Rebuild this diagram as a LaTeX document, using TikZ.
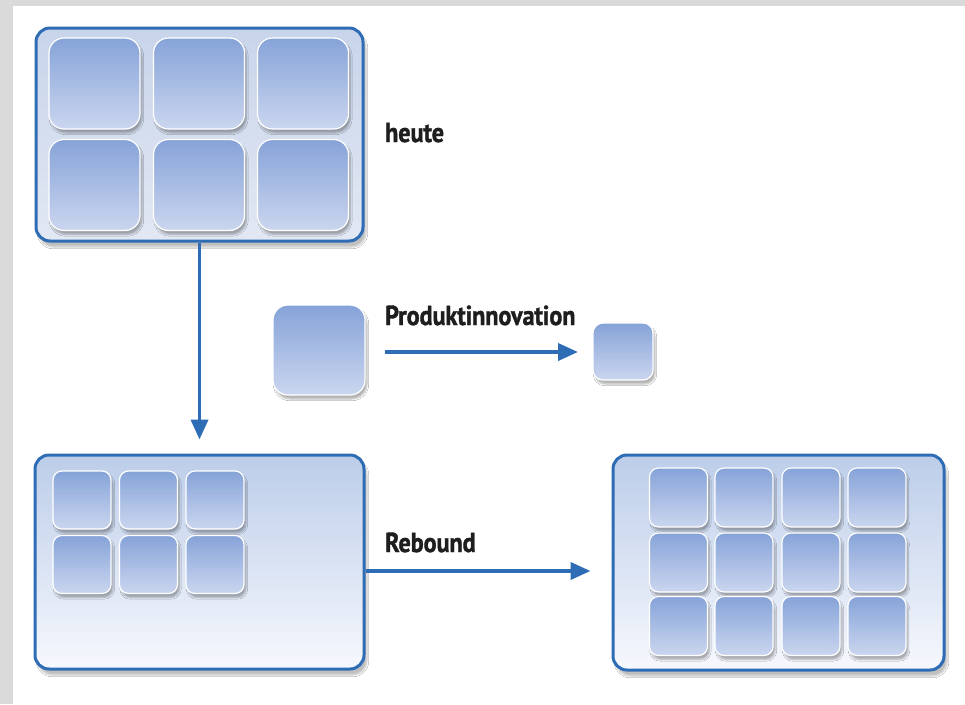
\documentclass[tikz,border=0pt]{standalone}
\usepackage{fontspec}
\newfontfamily\labfont[FakeStretch=0.875,FakeBold=1.4]{PT Sans}
\usetikzlibrary{arrows.meta,shadows.blur}
\definecolor{boxblue}{HTML}{2E6DB5}
\definecolor{bggray}{HTML}{DADADA}
\definecolor{tiletop}{HTML}{86A3D8}
\definecolor{tilebot}{HTML}{CBD6EF}
\definecolor{hboxtop}{HTML}{C8D4EA}
\definecolor{hboxbot}{HTML}{E2E8F3}
\definecolor{lboxtop}{HTML}{BCCDE9}
\definecolor{lboxbot}{HTML}{F6F8FD}
\definecolor{textcol}{HTML}{1E1E1E}
\tikzset{
  bigbox/.style={rectangle, rounded corners=14pt, draw=boxblue, line width=3pt,
    top color=#1top, bottom color=#1bot, inner sep=0pt,
    blur shadow={shadow xshift=3pt, shadow yshift=-6pt, shadow blur steps=6, shadow opacity=25}},
  tile/.style={rectangle, draw=white, line width=1.2pt, top color=tiletop, bottom color=tilebot,
    inner sep=0pt, rounded corners=#1,
    blur shadow={shadow xshift=2pt, shadow yshift=-4pt, shadow blur steps=5, shadow opacity=30}},
  tile/.default=14pt,
  bigtile/.style={tile=15pt, minimum width=91pt, minimum height=91pt},
  smalltile/.style={tile=9pt, minimum width=58pt, minimum height=58pt},
  arr/.style={draw=boxblue, line width=3.8pt, -{Triangle[length=20pt,width=17pt]}},
  lab/.style={anchor=base west, inner sep=0pt, text=textcol, font=\labfont\bfseries\fontsize{27.5pt}{32pt}\selectfont}
}
\begin{document}
\begin{tikzpicture}[x=1pt,y=-1pt]
\useasboundingbox (0,0) rectangle (965,704);
\fill[white] (0,0) rectangle (965,704);
\fill[bggray] (0,0) rectangle (965,6);
\fill[bggray] (0,0) rectangle (13,704);

% top box "heute"
\node[bigbox=hbox, minimum width=327pt, minimum height=213pt] (hbox) at (199.5,134.5) {};
\foreach \c/\x in {1/94.5,2/199,3/303}{
  \foreach \r/\y in {1/83.5,2/185}{
    \node[bigtile] (ht\r\c) at (\x,\y) {};
  }
}
\node[lab] (lheute) at (385,142) {heute};

% middle: product innovation
\node[tile=15pt, minimum width=92pt, minimum height=90pt] (mtile) at (319,350) {};
\node[tile=10pt, minimum width=60pt, minimum height=57pt] (stile) at (623,351.5) {};
\node[lab] (lprod) at (385,325) {Produktinnovation};
\coordinate (pa) at (385,352);
\coordinate (pb) at (578,352);
\draw[arr] (pa) -- (pb);

% bottom left box
\node[bigbox=lbox, minimum width=329pt, minimum height=214pt] (lbox) at (199.5,562) {};
\foreach \c/\x in {1/82,2/148.5,3/215}{
  \foreach \r/\y in {1/500,2/564.5}{
    \node[smalltile] (lt\r\c) at (\x,\y) {};
  }
}

% vertical arrow
\draw[arr] (hbox.south) -- ([yshift=14pt]lbox.north);

% bottom right box
\node[bigbox=lbox, minimum width=331pt, minimum height=215pt] (rbox) at (778.5,562.5) {};
\foreach \c/\x in {1/678.5,2/744,3/811,4/877}{
  \foreach \r/\y in {1/497.5,2/562.5,3/626}{
    \node[smalltile, minimum height=59pt] (rt\r\c) at (\x,\y) {};
  }
}

% rebound arrow
\node[lab] (lreb) at (385,552) {Rebound};
\draw[arr] ([yshift=-9pt]lbox.east) -- ([yshift=-8.5pt,xshift=-21pt]rbox.west);
\end{tikzpicture}
\end{document}
